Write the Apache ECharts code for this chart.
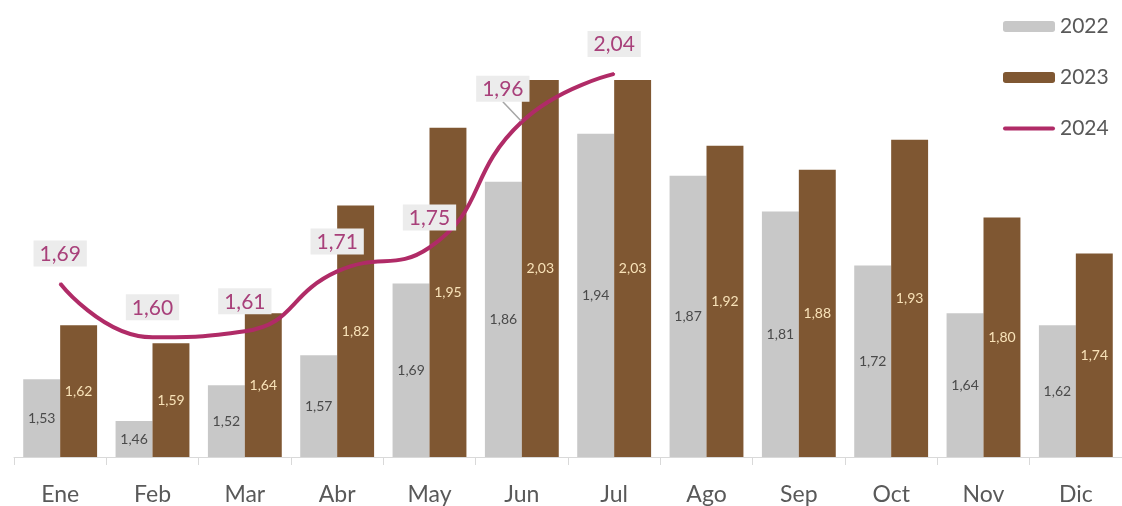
<!DOCTYPE html>
<html>
<head>
<meta charset="utf-8">
<script src="https://cdn.jsdelivr.net/npm/echarts@6/dist/echarts.min.js"></script>
<style>
html,body{margin:0;padding:0;background:#fff;}
#chart{width:1122px;height:506px;}
</style>
</head>
<body>
<div id="chart"></div>
<script>
const categories = ['Ene','Feb','Mar','Abr','May','Jun','Jul','Ago','Sep','Oct','Nov','Dic'];
const values2022 = [1.53,1.46,1.52,1.57,1.69,1.86,1.94,1.87,1.81,1.72,1.64,1.62];
const values2023 = [1.62,1.59,1.64,1.82,1.95,2.03,2.03,1.92,1.88,1.93,1.80,1.74];
const values2024 = [1.69,1.60,1.61,1.71,1.75,1.96,2.04];

const FONT = 'Lato, "Open Sans", sans-serif';
const fmt = p => p.value.toFixed(2).replace('.', ',');
const LEADER_INDEX = 5; // Jun label is moved aside with a leader line

const lineData = values2024.map((v, i) =>
  i === LEADER_INDEX ? {value: v, labelLine: {show: true}} : {value: v}
);

const chart = echarts.init(document.getElementById('chart'), null, {renderer:'canvas'});
chart.setOption({
  animation:false,
  backgroundColor:'#ffffff',
  grid:{left:14, right:-9, top:38, bottom:48, containLabel:false},
  legend:{
    orient:'vertical', left:998, top:11, itemGap:30,
    itemWidth:52, itemHeight:11,
    textStyle:{color:'#595959', fontSize:21, fontFamily:FONT},
    data:[
      {name:'2022'},
      {name:'2023'},
      {name:'2024', icon:'path://M2,0 L50,0 A2,2 0 0 1 50,4 L2,4 A2,2 0 0 1 2,0 Z', itemStyle:{color:'#b02b67'}}
    ]
  },
  xAxis:{
    type:'category', data:categories, boundaryGap:true,
    axisLine:{lineStyle:{color:'#d9d9d9', width:1}},
    axisTick:{show:true, alignWithLabel:false, length:8, lineStyle:{color:'#d9d9d9'}},
    axisLabel:{color:'#595959', fontSize:23, fontFamily:FONT, margin:26}
  },
  yAxis:{type:'value', min:1.4, max:2.1, show:false, splitLine:{show:false}},
  series:[
    {
      name:'2022', type:'bar', data:values2022,
      barWidth:'40%', barGap:'0%',
      itemStyle:{color:'#c8c8c8'},
      label:{show:true, position:'inside', formatter:fmt, color:'#4a4a4a', fontSize:14, fontFamily:FONT}
    },
    {
      name:'2023', type:'bar', data:values2023,
      barWidth:'40%', barGap:'0%',
      itemStyle:{color:'#7f5732'},
      label:{show:true, position:'inside', formatter:fmt, color:'#f8e2b8', fontSize:14, fontFamily:FONT}
    },
    {
      name:'2024', type:'line', data:lineData, smooth:true,
      symbol:'circle', symbolSize:2, showSymbol:true,
      lineStyle:{color:'#b02b67', width:4},
      itemStyle:{color:'#b02b67'},
      label:{
        show:true, position:'top', distance:16, formatter:fmt,
        color:'#a8407a', fontSize:21, fontFamily:FONT,
        backgroundColor:'#ececec', padding:[3,6,2,6]
      },
      labelLine:{show:false, lineStyle:{color:'#a6a6a6', width:1.5}},
      labelLayout: function(params){
        if (params.dataIndex === LEADER_INDEX) return {dx:-19, dy:-3};
        return {};
      },
      z:5
    }
  ]
});
</script>
</body>
</html>
